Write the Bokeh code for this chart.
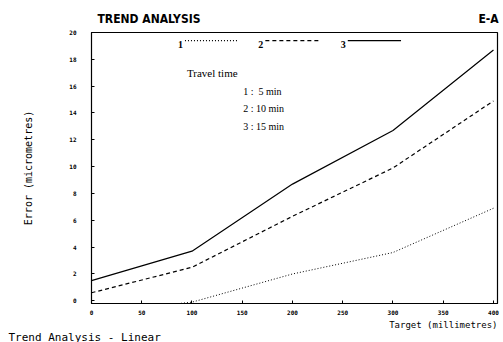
from bokeh.plotting import figure
from bokeh.models import Label, Range1d, FixedTicker, Title
from bokeh.embed import file_html
from bokeh.resources import INLINE

# ---- data ----
target_mm = [0, 100, 200, 300, 400]
error_5min = [-0.9, -0.1, 2.0, 3.6, 6.9]
error_10min = [0.6, 2.5, 6.3, 9.9, 14.9]
error_15min = [1.5, 3.7, 8.7, 12.7, 18.7]
x_ticks = [0, 50, 100, 150, 200, 250, 300, 350, 400]
y_ticks = [0, 2, 4, 6, 8, 10, 12, 14, 16, 18, 20]
series_names = ["1", "2", "3"]
legend_lines = ["1 :\u00a0\u00a05 min", "2 : 10 min", "3 : 15 min"]
title_left = "TREND ANALYSIS"
title_right = "E-A"

p = figure(width=503, height=342, output_backend="svg", toolbar_location=None,
           x_range=Range1d(0, 404), y_range=Range1d(-0.2, 20),
           min_border_left=91, min_border_right=6, min_border_top=32, min_border_bottom=37)
p.background_fill_color = "white"
p.border_fill_color = "white"
p.outline_line_color = "black"
p.outline_line_width = 1.2
p.grid.visible = False

for ax in (p.xaxis[0], p.yaxis[0]):
    ax.axis_line_color = "black"
    ax.major_tick_in = 3
    ax.major_tick_out = 0
    ax.minor_tick_line_color = None
    ax.major_label_text_font = "DejaVu Sans Mono"
    ax.major_label_text_font_style = "bold"
    ax.major_label_text_font_size = "6px"
    ax.major_label_text_color = "black"

p.xaxis.ticker = FixedTicker(ticks=x_ticks)
p.yaxis.ticker = FixedTicker(ticks=y_ticks)
p.xaxis.major_label_standoff = 6
p.yaxis.major_label_standoff = 15
p.yaxis.axis_label = "Error (micrometres)"
p.yaxis.axis_label_text_font = "DejaVu Sans Mono"
p.yaxis.axis_label_text_font_style = "normal"
p.yaxis.axis_label_text_font_size = "10px"
p.yaxis.axis_label_text_color = "black"
p.yaxis.axis_label_standoff = 32

# series
p.line(target_mm, error_5min, line_color="black", line_width=1, line_dash="1 2")
p.line(target_mm, error_10min, line_color="black", line_width=1.2, line_dash="4 3")
p.line(target_mm, error_15min, line_color="black", line_width=1.2)

# legend (label then sample line)
dashes = ["1 2", "4 3", "solid"]
lx = [86, 166, 248]
for name, d, x0 in zip(series_names, dashes, lx):
    p.add_layout(Label(x=x0, y=19.1, text=name, text_font="Liberation Serif",
                       text_font_style="bold", text_font_size="10px", text_color="black",
                       text_baseline="middle", text_align="left"))
    p.line([x0 + 7, x0 + 60], [19.4, 19.4], line_color="black", line_width=1.2,
           line_dash=d)

p.add_layout(Label(x=95, y=17.0, text="Travel time", text_font="Liberation Serif",
                   text_font_size="11px", text_color="black", text_baseline="middle"))
for i, t in enumerate(legend_lines):
    p.add_layout(Label(x=151, y=15.6 - i * 1.3, text=t, text_font="Liberation Serif",
                       text_font_size="10px", text_color="black", text_baseline="middle"))

# titles (the top row carries both the left title and the cut-off right tag)
p.add_layout(Title(text=title_left + "\u00a0" * 74 + title_right, align="left", offset=6,
                   standoff=14, text_font="DejaVu Sans Condensed", text_font_style="bold",
                   text_font_size="12px", text_color="black"), "above")
p.add_layout(Title(text="Target (millimetres)", align="right", offset=0, standoff=0,
                   text_font="DejaVu Sans Mono", text_font_style="normal",
                   text_font_size="9px", text_color="black"), "below")
p.add_layout(Title(text="Trend Analysis - Linear", align="left", offset=-83, standoff=-2,
                   text_font="DejaVu Sans Mono", text_font_style="normal",
                   text_font_size="11px", text_color="black"), "below")

open("out.html", "w").write(file_html(p, INLINE))
